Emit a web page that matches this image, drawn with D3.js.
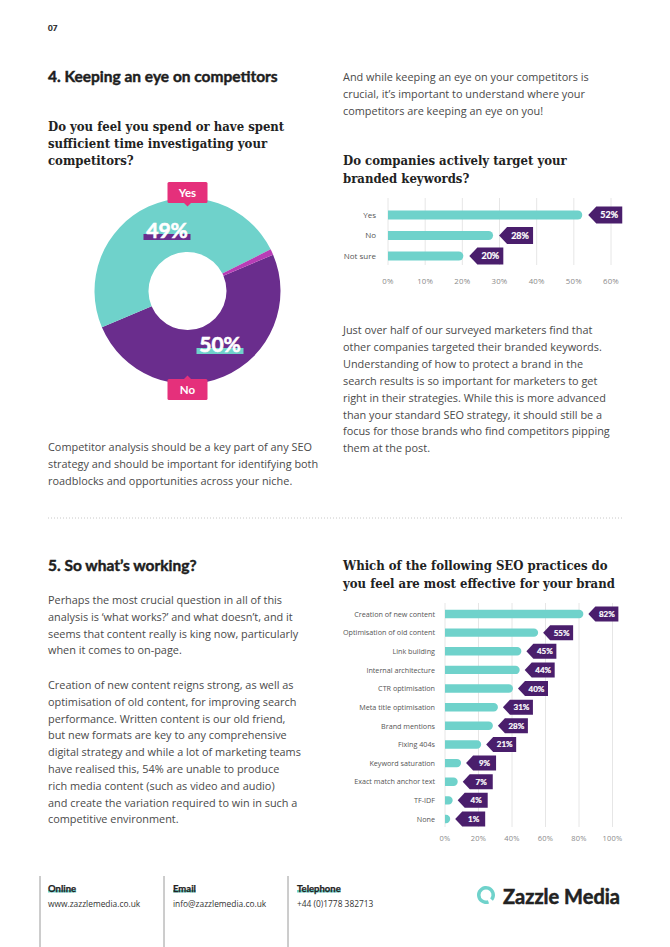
<!DOCTYPE html>
<html>
<head>
<meta charset="utf-8">
<script src="https://cdn.jsdelivr.net/npm/d3@7"></script>
<style>
  html, body { margin: 0; padding: 0; background: #fff; }
  svg { display: block; }
  .body { font-family: 'Open Sans', sans-serif; font-size: 10.9px; fill: #4a4a4a; }
  .head { font-family: 'Lato', sans-serif; font-weight: bold; fill: #1e1e1e; stroke: #1e1e1e; stroke-width: 0.45px; }
  .serif { font-family: 'DejaVu Serif Condensed', 'DejaVu Serif', serif; font-weight: bold; font-size: 13px; fill: #222; }
</style>
</head>
<body>
<svg id="page" width="670" height="947"></svg>
<script>
// donut: spent enough time on competitors?
const donutKeys = ['No', 'Yes', 'Other'];
const donutValues = [50, 49, 1];

// branded keywords chart
const brandCats = ['Yes', 'No', 'Not sure'];
const brandValues = [52, 28, 20];
const brandTicks = [0, 10, 20, 30, 40, 50, 60];

// seo practices chart
const seoCats = ['Creation of new content', 'Optimisation of old content', 'Link building',
    'Internal architecture', 'CTR optimisation', 'Meta title optimisation', 'Brand mentions',
    'Fixing 404s', 'Keyword saturation', 'Exact match anchor text', 'TF-IDF', 'None'];
const seoValues = [82, 55, 45, 44, 40, 31, 28, 21, 9, 7, 4, 1];
const seoTicks = [0, 20, 40, 60, 80, 100];

const introRight = ['And while keeping an eye on your competitors is',
    'crucial, it\u2019s important to understand where your',
    'competitors are keeping an eye on you!'];
const brandText = ['Just over half of our surveyed marketers find that',
    'other companies targeted their branded keywords.',
    'Understanding of how to protect a brand in the',
    'search results is so important for marketers to get',
    'right in their strategies. While this is more advanced',
    'than your standard SEO strategy, it should still be a',
    'focus for those brands who find competitors pipping',
    'them at the post.'];
const competitorText = ['Competitor analysis should be a key part of any SEO',
    'strategy and should be important for identifying both',
    'roadblocks and opportunities across your niche.'];
const workingText1 = ['Perhaps the most crucial question in all of this',
    'analysis is \u2018what works?\u2019 and what doesn\u2019t, and it',
    'seems that content really is king now, particularly',
    'when it comes to on-page.'];
const workingText2 = ['Creation of new content reigns strong, as well as',
    'optimisation of old content, for improving search',
    'performance. Written content is our old friend,',
    'but new formats are key to any comprehensive',
    'digital strategy and while a lot of marketing teams',
    'have realised this, 54% are unable to produce',
    'rich media content (such as video and audio)',
    'and create the variation required to win in such a',
    'competitive environment.'];

const teal = '#6fd2cb', purple = '#6a2d8d', tagPurple = '#4a1e6c', pink = '#e5307b', magenta = '#b83db6';

const svg = d3.select('#page');

function lines(x, y, arr, cls, step) {
    const t = svg.append('text').attr('class', cls).attr('x', x).attr('y', y);
    arr.forEach(function (d, i) {
        t.append('tspan').attr('x', x).attr('y', y + i * step).text(d);
    });
    return t;
}

// page header and headings
svg.append('text').attr('class', 'head').attr('x', 48).attr('y', 31).style('font-size', '8px').style('stroke-width', '0.2px').text('07');
svg.append('text').attr('class', 'head').attr('x', 48).attr('y', 81.5).style('font-size', '15.5px')
    .text('4. Keeping an eye on competitors');
lines(48, 131, ['Do you feel you spend or have spent', 'sufficient time investigating your', 'competitors?'], 'serif', 17);
lines(343, 81, introRight, 'body', 17);
lines(343, 165, ['Do companies actively target your', 'branded keywords?'], 'serif', 17.5);
lines(343, 334, brandText, 'body', 16.9);
lines(48, 451, competitorText, 'body', 17);

svg.append('line').attr('x1', 48).attr('x2', 622).attr('y1', 518).attr('y2', 518)
    .attr('stroke', '#c8c8c8').attr('stroke-width', 1).attr('stroke-dasharray', '1,2');

svg.append('text').attr('class', 'head').attr('x', 48).attr('y', 570.5).style('font-size', '15.5px')
    .text('5. So what\u2019s working?');
lines(48, 604, workingText1, 'body', 16.8);
lines(48, 689, workingText2, 'body', 16.8);
lines(343, 570, ['Which of the following SEO practices do', 'you feel are most effective for your brand'], 'serif', 17.5);

// donut
const cx = 187.5, cy = 291;
const pie = d3.pie().sort(null).startAngle(67 * Math.PI / 180).endAngle(67 * Math.PI / 180 + 2 * Math.PI);
const arc = d3.arc().innerRadius(39).outerRadius(93);
const donutColor = d3.scaleOrdinal().domain(donutKeys).range([purple, teal, magenta]);
const dg = svg.append('g').attr('transform', 'translate(' + cx + ',' + cy + ')');
dg.selectAll('path').data(pie(donutValues)).enter().append('path')
    .attr('d', arc)
    .attr('fill', function (d, i) { return donutColor(donutKeys[i]); });

// percentage labels with underline band
function pctLabel(x, y, txt, band) {
    svg.append('rect').attr('x', x).attr('y', y - 4).attr('width', 47).attr('height', 6).attr('fill', band);
    svg.append('text').attr('x', x + 23.5).attr('y', y).attr('text-anchor', 'middle')
        .style('font-family', 'Lato, sans-serif').style('font-weight', 'bold').style('font-size', '21px')
        .attr('fill', '#fff').attr('stroke', '#fff').attr('stroke-width', 0.6).text(txt);
}
pctLabel(143.5, 238, donutValues[1] + '%', purple);
pctLabel(196.5, 352, donutValues[0] + '%', teal);

function pinkTag(y, txt, down) {
    svg.append('rect').attr('x', cx - 20).attr('y', y).attr('width', 40).attr('height', 21).attr('rx', 1.5).attr('fill', pink);
    const py = down ? y + 21 : y;
    const d = down ? 3.5 : -3.5;
    svg.append('path').attr('d', 'M' + (cx - 3.5) + ',' + py + 'L' + cx + ',' + (py + d) + 'L' + (cx + 3.5) + ',' + py + 'Z').attr('fill', pink);
    svg.append('text').attr('x', cx).attr('y', y + 14.5).attr('text-anchor', 'middle')
        .style('font-family', 'Lato, sans-serif').style('font-weight', 'bold').style('font-size', '11.5px')
        .attr('fill', '#fff').text(txt);
}
pinkTag(182, 'Yes', true);
pinkTag(379, 'No', false);

// horizontal bar chart with purple arrow tags
function barChart(opt) {
    const x = d3.scaleLinear().domain([0, opt.max]).range(opt.xr);
    const y = d3.scaleBand().domain(opt.cats).range(opt.yr);
    const g = svg.append('g');
    g.selectAll('line.grid').data(opt.ticks).enter().append('line')
        .attr('x1', function (d) { return x(d); }).attr('x2', function (d) { return x(d); })
        .attr('y1', opt.gy[0]).attr('y2', opt.gy[1])
        .attr('stroke', '#e6e6e6').attr('stroke-width', 1);
    g.selectAll('text.tick').data(opt.ticks).enter().append('text')
        .attr('x', function (d) { return x(d); }).attr('y', opt.tickY)
        .attr('text-anchor', 'middle')
        .style('font-family', '"Open Sans", sans-serif').style('font-size', opt.tickSize).style('letter-spacing', '0.2px')
        .attr('fill', '#8a8a8a').text(function (d) { return d + '%'; });
    g.selectAll('text.cat').data(opt.cats).enter().append('text')
        .attr('x', opt.xr[0] - opt.catGap).attr('y', function (d) { return y(d) + y.bandwidth() / 2 + 2.7; })
        .attr('text-anchor', 'end')
        .style('font-family', '"Open Sans", sans-serif').style('font-size', opt.catSize)
        .attr('fill', '#555').text(function (d) { return d; });
    const h = opt.barH, r = h / 2;
    g.selectAll('path.bar').data(opt.values).enter().append('path')
        .attr('fill', teal)
        .attr('d', function (d, i) {
            const x0 = x(0), x1 = Math.max(x(d) + 1, x0 + r + 1);
            const yt = y(opt.cats[i]) + y.bandwidth() / 2 - r;
            return 'M' + x0 + ',' + yt + 'H' + (x1 - r) + 'A' + r + ',' + r + ' 0 0 1 ' + (x1 - r) + ',' + (yt + h) + 'H' + x0 + 'Z';
        });
    const w = opt.tagW, th = opt.tagH, a = opt.tagA;
    g.selectAll('path.tag').data(opt.values).enter().append('path')
        .attr('fill', tagPurple)
        .attr('d', function (d, i) {
            const tx = Math.max(x(d) + 1, x(0) + r + 1) + opt.tagGap;
            const c = y(opt.cats[i]) + y.bandwidth() / 2;
            return 'M' + tx + ',' + c + 'L' + (tx + a) + ',' + (c - th / 2) + 'H' + (tx + w) + 'V' + (c + th / 2) + 'H' + (tx + a) + 'Z';
        });
    g.selectAll('text.val').data(opt.values).enter().append('text')
        .attr('x', function (d) { return Math.max(x(d) + 1, x(0) + r + 1) + opt.tagGap + a + (w - a) / 2; })
        .attr('y', function (d, i) { return y(opt.cats[i]) + y.bandwidth() / 2 + 3; })
        .attr('text-anchor', 'middle')
        .style('font-family', 'Lato, sans-serif').style('font-weight', 'bold').style('font-size', opt.valSize)
        .attr('fill', '#fff').attr('stroke', '#fff').attr('stroke-width', 0.2).text(function (d) { return d + '%'; });
}

barChart({
    cats: brandCats, values: brandValues, ticks: brandTicks, max: 60,
    xr: [388, 611], yr: [204.75, 266.25], gy: [198, 265], tickY: 284, tickSize: '7.8px',
    catSize: '8px', catGap: 12, barH: 9, tagW: 34, tagH: 17, tagA: 8, tagGap: 6, valSize: '9px'
});

barChart({
    cats: seoCats, values: seoValues, ticks: seoTicks, max: 100,
    xr: [445, 612.5], yr: [604.7, 828.3], gy: [603, 827], tickY: 841, tickSize: '7.5px',
    catSize: '7.2px', catGap: 10, barH: 8.4, tagW: 30, tagH: 15, tagA: 7, tagGap: 5, valSize: '8px'
});

// footer
const footCols = [
    {x: 48, title: 'Online', text: 'www.zazzlemedia.co.uk'},
    {x: 173, title: 'Email', text: 'info@zazzlemedia.co.uk'},
    {x: 297, title: 'Telephone', text: '+44 (0)1778 382713'}
];
[40, 164, 288].forEach(function (lx) {
    svg.append('line').attr('x1', lx).attr('x2', lx).attr('y1', 876).attr('y2', 947)
        .attr('stroke', '#9a9a9a').attr('stroke-width', 1);
});
footCols.forEach(function (c) {
    const t = svg.append('text').attr('x', c.x).attr('y', 892)
        .style('font-family', 'Lato, sans-serif').style('font-weight', 'bold').style('font-size', '9.5px')
        .attr('fill', '#222').attr('stroke', '#222').attr('stroke-width', 0.25).text(c.title);
    const w = t.node().getComputedTextLength();
    svg.insert('rect', 'text').attr('x', c.x).attr('y', 890).attr('width', w).attr('height', 2.5).attr('fill', teal);
    svg.append('text').attr('x', c.x).attr('y', 907)
        .style('font-family', '"Open Sans", sans-serif').style('font-size', '8.4px')
        .attr('fill', '#333').text(c.text);
});
// logo
const ring = d3.arc().innerRadius(5.5).outerRadius(9).startAngle(160 * Math.PI / 180).endAngle((360 + 130) * Math.PI / 180);
svg.append('path').attr('d', ring()).attr('transform', 'translate(486,895)').attr('fill', teal);
svg.append('text').attr('x', 503).attr('y', 904)
    .style('font-family', 'Lato, sans-serif').style('font-weight', 'bold').style('font-size', '20px')
    .attr('fill', '#222').attr('stroke', '#222').attr('stroke-width', 0.5).text('Zazzle Media');
</script>
</body>
</html>
